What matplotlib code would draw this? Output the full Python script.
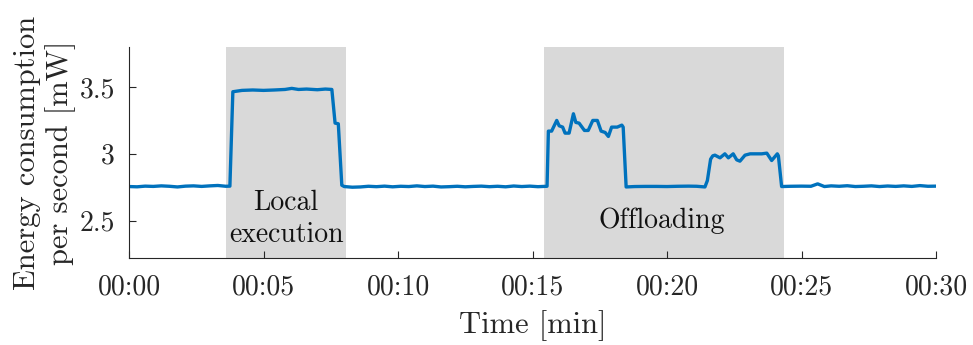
import matplotlib
matplotlib.use("Agg")
import matplotlib.pyplot as plt

plt.rcParams['font.family'] = ['cmr10', 'DejaVu Serif']
plt.rcParams['axes.formatter.use_mathtext'] = True

# ---- data (minutes, mW) ----
time_min = [
    0.0, 0.3, 0.6, 0.9, 1.2, 1.5, 1.8, 2.1, 2.4, 2.7, 3.0, 3.3, 3.6, 3.75,
    3.86, 4.2, 4.6, 5.0, 5.4, 5.8, 6.05, 6.3, 6.6, 7.0, 7.3, 7.54,
    7.66, 7.78, 7.91,
    8.0, 8.3, 8.6, 8.9, 9.2, 9.5, 9.8, 10.1, 10.4, 10.7, 11.0, 11.3, 11.6,
    11.9, 12.2, 12.5, 12.8, 13.1, 13.4, 13.7, 14.0, 14.3, 14.6, 14.9, 15.2, 15.54,
    15.59, 15.71, 15.90, 15.99, 16.12, 16.21, 16.36, 16.52, 16.61, 16.73,
    16.93, 17.07, 17.24, 17.41, 17.55, 17.70, 17.82, 17.94, 18.15, 18.32, 18.37,
    18.48, 18.8, 19.2, 19.6, 20.0, 20.4, 20.8, 21.1, 21.41,
    21.50, 21.62, 21.70, 21.78, 21.97, 22.15, 22.28, 22.46, 22.59, 22.71,
    22.90, 23.09, 23.52, 23.71, 23.89, 24.10, 24.14,
    24.26, 24.6, 25.0, 25.35, 25.6, 25.85, 26.1, 26.4, 26.7, 27.0, 27.3,
    27.6, 27.9, 28.2, 28.5, 28.8, 29.1, 29.4, 29.7, 30.0,
]
energy_mw = [
    2.755, 2.753, 2.758, 2.756, 2.760, 2.757, 2.752, 2.758, 2.760, 2.756, 2.760, 2.763, 2.757, 2.758,
    3.465, 3.475, 3.478, 3.475, 3.478, 3.482, 3.490, 3.482, 3.485, 3.480, 3.485, 3.482,
    3.230, 3.225, 2.765,
    2.755, 2.750, 2.752, 2.757, 2.754, 2.758, 2.753, 2.757, 2.755, 2.760, 2.755, 2.758, 2.752,
    2.754, 2.757, 2.753, 2.756, 2.758, 2.754, 2.757, 2.753, 2.759, 2.755, 2.758, 2.754, 2.757,
    3.170, 3.170, 3.250, 3.210, 3.200, 3.155, 3.155, 3.300, 3.235, 3.230,
    3.175, 3.175, 3.250, 3.250, 3.170, 3.160, 3.130, 3.200, 3.200, 3.215, 3.200,
    2.752, 2.755, 2.756, 2.756, 2.755, 2.757, 2.758, 2.757, 2.752,
    2.800, 2.960, 2.985, 2.990, 2.970, 3.000, 2.970, 3.000, 2.955, 2.945,
    2.990, 3.000, 3.000, 3.005, 2.950, 3.000, 2.985,
    2.755, 2.757, 2.758, 2.757, 2.775, 2.755, 2.760, 2.757, 2.761, 2.755, 2.757,
    2.760, 2.755, 2.759, 2.756, 2.760, 2.756, 2.762, 2.757, 2.758,
]
phases = [(3.6, 8.07, "Local\nexecution", 5.84, 2.515),
          (15.43, 24.35, "Offloading", 19.81, 2.50)]
x_ticks = [0, 5, 10, 15, 20, 25, 30]
x_tick_labels = ["00:00", "00:05", "00:10", "00:15", "00:20", "00:25", "00:30"]
y_ticks = [2.5, 3.0, 3.5]
y_tick_labels = ["2.5", "3", "3.5"]

fig = plt.figure(figsize=(9.73, 3.45), dpi=100)
ax = fig.add_axes([0.1326, 0.2522, 0.8294, 0.6116])

for x0, x1, label, tx, ty in phases:
    ax.axvspan(x0, x1, color="#d9d9d9", lw=0, zorder=0)
    ax.text(tx, ty, label, ha="center", va="center", fontsize=20,
            color="#111111", linespacing=1.3, zorder=1)

ax.plot(time_min, energy_mw, color="#0072BD", lw=2.4, zorder=2,
        solid_joinstyle="round")

ax.set_xlim(0, 30)
ax.set_ylim(2.22, 3.80)
ax.set_xticks(x_ticks)
ax.set_xticklabels(x_tick_labels)
ax.set_yticks(y_ticks)
ax.set_yticklabels(y_tick_labels)

for s in ["top", "right"]:
    ax.spines[s].set_visible(False)
for s in ["left", "bottom"]:
    ax.spines[s].set_color("#262626")
    ax.spines[s].set_linewidth(0.8)

ax.tick_params(direction="in", length=5, width=0.8, color="#262626",
               labelsize=20, labelcolor="#262626")
ax.tick_params(axis="x", pad=12)
ax.tick_params(axis="y", pad=10)

ax.set_xlabel("Time [min]", fontsize=22, color="#262626")
ax.set_ylabel("Energy consumption\nper second [mW]", fontsize=22,
              color="#262626", linespacing=1.15)
ax.xaxis.set_label_coords(0.5, -0.245)
ax.yaxis.set_label_coords(-0.066, 0.5)

fig.savefig("out.png", dpi=100)
